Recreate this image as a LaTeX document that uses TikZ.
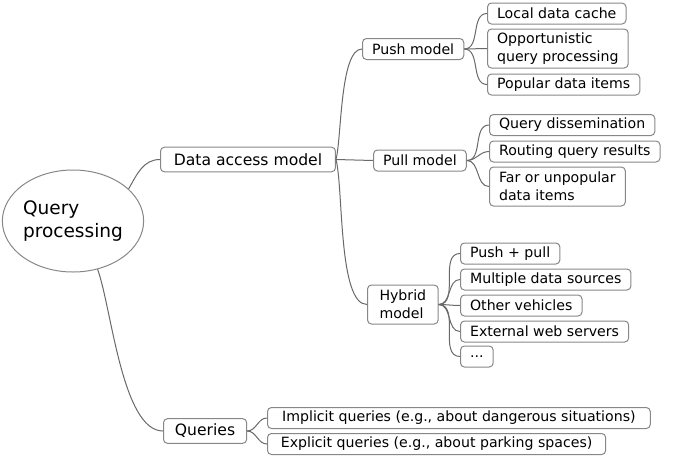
\documentclass[tikz,border=0pt]{standalone}
\usepackage{fontspec}
\setmainfont{DejaVu Sans}
\usetikzlibrary{shapes.geometric}
\definecolor{linegray}{RGB}{105,105,105}
\definecolor{boxgray}{RGB}{135,135,135}
\begin{document}
\begin{tikzpicture}[x=0.75pt,y=0.75pt]
  \useasboundingbox (0,0) rectangle (674,-457);
  \node[draw=boxgray,line width=0.75pt,ellipse,minimum width=93pt,minimum height=76.5pt,inner sep=0pt,align=left,font=\fontsize{13.9}{17.25}\selectfont] (qp) at (73,-221) {Query\\processing};
  \begin{scope}[every node/.style={draw=boxgray,line width=0.75pt,rounded corners=3pt,anchor=west,inner xsep=8.6pt,inner ysep=0pt,minimum height=18.5pt,font=\fontsize{11.7}{14}\selectfont}]
  \node[inner xsep=10pt] (access) at (160,-159.5) {Data access model};
  \node (queries) at (163,-431) {Queries};
  \end{scope}
  \begin{scope}[every node/.style={draw=boxgray,line width=0.75pt,rounded corners=3pt,anchor=west,inner xsep=7.2pt,inner ysep=0pt,minimum height=15.75pt,align=left,font=\fontsize{10.6}{13.5}\selectfont}]
  \node (push) at (362,-49) {Push model};
  \node (pull) at (373,-160.5) {Pull model};
  \node[minimum height=29.25pt,minimum width=53pt] (hybrid) at (367,-304.5) {Hybrid\\model};
  \node (cache) at (487,-13.5) {Local data cache};
  \node[minimum height=29.25pt] (opport) at (487,-48.5) {Opportunistic\\query processing};
  \node (popular) at (487,-84.5) {Popular data items};
  \node (dissem) at (489,-125) {Query dissemination};
  \node (routing) at (489,-151.5) {Routing query results};
  \node[minimum height=29.25pt] (far) at (489,-186.5) {Far or unpopular\\data items};
  \node (pushpull) at (460,-253.5) {Push + pull};
  \node (multi) at (460,-279.5) {Multiple data sources};
  \node (vehicles) at (460,-305.5) {Other vehicles};
  \node (websrv) at (460,-331.5) {External web servers};
  \node (more) at (460,-356.5) {...};
  \node[inner xsep=11pt] (implicit) at (267,-418) {Implicit queries (e.g., about dangerous situations)};
  \node[inner xsep=10pt] (explicit) at (267,-444) {Explicit queries (e.g., about parking spaces)};
  \end{scope}
  \begin{scope}[every edge/.style={draw=linegray,line width=0.75pt}]
  \path (qp.30) edge[out=60,in=180] (access.west);
  \path (qp.-63) edge[out=-70,in=180,looseness=0.6] (queries.west);
  \path (access.east) edge[out=75,in=180,looseness=0.5] (push.west);
  \path (access.east) edge (pull.west);
  \path (access.east) edge[out=-75,in=180,looseness=0.5] (hybrid.west);
  \path (push.east) edge[out=0,in=180] (cache.west);
  \path (push.east) edge[out=0,in=180] (opport.west);
  \path (push.east) edge[out=0,in=180] (popular.west);
  \path (pull.east) edge[out=0,in=180] (dissem.west);
  \path (pull.east) edge[out=0,in=180] (routing.west);
  \path (pull.east) edge[out=0,in=180] (far.west);
  \path (hybrid.east) edge[out=0,in=180] (pushpull.west);
  \path (hybrid.east) edge[out=0,in=180] (multi.west);
  \path (hybrid.east) edge[out=0,in=180] (vehicles.west);
  \path (hybrid.east) edge[out=0,in=180] (websrv.west);
  \path (hybrid.east) edge[out=0,in=180] (more.west);
  \path (queries.east) edge[out=0,in=180] (implicit.west);
  \path (queries.east) edge[out=0,in=180] (explicit.west);
  \end{scope}
\end{tikzpicture}
\end{document}
